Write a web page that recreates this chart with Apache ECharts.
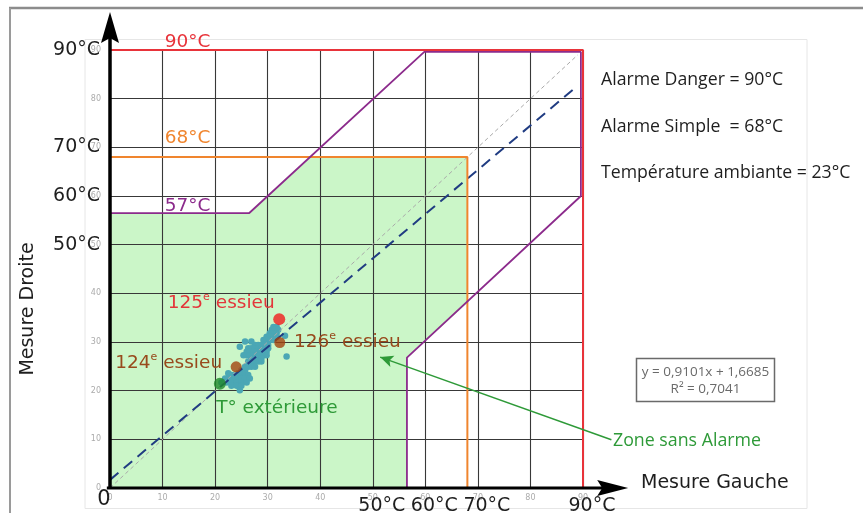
<!DOCTYPE html>
<html>
<head>
<meta charset="utf-8">
<script src="https://cdn.jsdelivr.net/npm/echarts@6/dist/echarts.min.js"></script>
<style>
  html, body { margin: 0; padding: 0; background: #ffffff; }
  #chart { width: 863px; height: 513px; }
</style>
</head>
<body>
<div id="chart"></div>
<script>
// Temperature scale (°C) shared by both measurement axes
const scaleMin = 0;
const scaleMax = 90;
const scaleStep = 10;

// Large tick captions
const leftCaptions = { 90: '90°C', 70: '70°C', 60: '60°C', 50: '50°C' };
const bottomCaptions = { 50: '50°C', 60: '60°C', 70: '70°C', 90: '90°C' };

// Alarm thresholds
const dangerLevel = 90;
const simpleLevel = 68;
const ambientTemp = 23;

// Threshold outlines (Mesure Gauche, Mesure Droite)
const dangerOutline = [[0, 90], [90, 90], [90, 0]];
const simpleOutline = [[0, 68], [68, 68], [68, 0]];
const gapOutline = [[-0.6, 56.5], [26.5, 56.5], [59.8, 89.6], [89.6, 89.6], [89.6, 60], [56.5, 26.8], [56.5, 0]];

// No-alarm zone
const quietZone = [[0, 0], [0, 56.5], [26.5, 56.5], [38, 68], [68, 68], [68, 38], [56.5, 26.8], [56.5, 0]];

// Axle readings (left, right)
const readings = [
  [31.1, 33.1], [31.7, 33.1],
  [30.8, 32.5], [31.4, 32.5], [32.0, 32.5],
  [30.4, 31.8], [31.1, 31.8], [31.7, 31.8],
  [29.8, 31.1], [30.4, 31.1], [31.1, 31.1], [31.7, 31.1], [33.3, 31.3],
  [29.2, 30.4], [29.8, 30.4], [30.4, 30.4], [31.1, 30.4],
  [25.7, 30.1], [26.9, 30.1],
  [27.6, 29.4], [28.2, 29.4], [28.8, 29.4], [29.5, 29.4], [30.1, 29.4],
  [24.7, 29.0],
  [26.3, 28.7], [26.9, 28.7], [27.6, 28.7], [28.2, 28.7], [28.8, 28.7], [29.5, 28.7], [30.1, 28.7],
  [26.0, 28.0], [26.6, 28.0], [27.3, 28.0], [27.9, 28.0], [28.5, 28.0], [29.2, 28.0], [29.8, 28.0],
  [25.4, 27.3], [26.0, 27.3], [26.6, 27.3], [27.3, 27.3], [27.9, 27.3], [28.5, 27.3], [29.2, 27.3], [29.8, 27.3],
  [33.6, 27.0],
  [26.9, 26.6], [27.6, 26.6], [28.2, 26.6], [28.8, 26.6],
  [26.3, 26.0], [26.9, 26.0], [27.6, 26.0], [28.2, 26.0], [28.8, 26.0],
  [25.7, 24.9], [26.3, 24.9], [26.9, 24.9], [27.6, 24.9],
  [25.0, 24.2], [25.7, 24.2],
  [22.5, 23.6], [24.4, 23.6], [25.0, 23.6], [25.7, 23.6],
  [23.1, 23.2], [23.8, 23.2], [26.3, 23.2],
  [21.9, 22.5], [22.5, 22.5], [23.1, 22.5], [23.8, 22.5], [24.4, 22.5], [25.0, 22.5], [25.7, 22.5], [26.6, 22.5],
  [21.2, 21.7], [22.2, 21.7], [23.1, 21.7], [24.1, 21.7], [25.0, 21.7], [26.0, 21.7],
  [23.1, 21.0], [24.1, 21.0], [25.0, 21.0],
  [24.7, 20.1]
];

// Highlighted measurements
const axle125 = [32.2, 34.7];
const axle126 = [32.3, 29.9];
const axle124 = [24.0, 24.9];
const outdoorTemp = [20.9, 21.4];

// Linear trend of the readings
const trendSlope = 0.9101;
const trendIntercept = 1.6685;
const trendR2 = 0.7041;
const trendRange = [0, 89];
const equalityRange = [0, 89];

const fmt = (v) => String(v).replace('.', ',');

const BIG = 'DejaVu Sans';
const SANS = 'Open Sans';

const chart = echarts.init(document.getElementById('chart'), null, { renderer: 'canvas' });

const gridLine = { show: true, lineStyle: { color: '#383838', width: 1.1, type: 'solid' } };
const smallLabel = { fontSize: 8, color: '#ababab', fontFamily: BIG };

const option = {
  animation: false,
  backgroundColor: '#ffffff',
  grid: { left: 110, top: 50, width: 473, height: 438, outerBoundsMode: 'none', containLabel: false },
  xAxis: [
    {
      type: 'value', min: scaleMin, max: scaleMax, interval: scaleStep, z: 3,
      axisLine: { show: false }, axisTick: { show: false },
      splitLine: gridLine,
      axisLabel: Object.assign({ margin: 6 }, smallLabel)
    },
    {
      type: 'value', position: 'bottom', offset: 0, min: scaleMin, max: scaleMax, interval: scaleStep, z: 3,
      axisLine: { show: false }, axisTick: { show: false }, splitLine: { show: false },
      axisLabel: {
        margin: 1,
        formatter: (v) => v === 0 ? '{z|0}' : (bottomCaptions[v] ? '{b|' + bottomCaptions[v] + '}' : ''),
        rich: {
          b: { fontSize: 19, color: '#1e1e1e', fontFamily: BIG, padding: [8, 0, 0, 18] },
          z: { fontSize: 21, color: '#1e1e1e', fontFamily: BIG, padding: [0, 12, 0, 0] }
        }
      }
    }
  ],
  yAxis: [
    {
      type: 'value', min: scaleMin, max: scaleMax, interval: scaleStep, z: 3,
      axisLine: { show: false }, axisTick: { show: false },
      splitLine: gridLine,
      axisLabel: Object.assign({ margin: 9 }, smallLabel)
    },
    {
      type: 'value', position: 'left', offset: 0, min: scaleMin, max: scaleMax, interval: scaleStep, z: 3,
      axisLine: { show: false }, axisTick: { show: false }, splitLine: { show: false },
      axisLabel: {
        margin: 10, fontSize: 19, color: '#1e1e1e', fontFamily: BIG,
        formatter: (v) => leftCaptions[v] || ''
      }
    }
  ],
  series: [
    {
      name: 'Zone sans Alarme', type: 'custom', z: 1, silent: true, clip: false,
      data: quietZone,
      renderItem: (params, api) => {
        if (params.dataIndex !== 0) return null;
        return {
          type: 'polygon',
          shape: { points: quietZone.map((p) => api.coord(p)) },
          style: { fill: '#cbf6c8', stroke: null }
        };
      }
    },
    {
      name: 'Mesures', type: 'scatter', z: 4, silent: true,
      data: readings, symbolSize: 6.5,
      itemStyle: { color: '#4ba7b5', opacity: 1 }
    },
    {
      name: 'x = y', type: 'line', z: 5, silent: true, symbol: 'none',
      data: equalityRange.map((x) => [x, x]),
      lineStyle: { color: '#a9a9a9', width: 1, type: [4, 3] }
    },
    {
      name: 'Tendance', type: 'line', z: 5, silent: true, symbol: 'none',
      data: trendRange.map((x) => [x, trendSlope * x + trendIntercept]),
      lineStyle: { color: '#203c82', width: 2, type: [11, 7] }
    },
    {
      name: 'Alarme Simple', type: 'line', z: 6, silent: true, symbol: 'none', clip: false,
      data: simpleOutline, lineStyle: { color: '#f0852e', width: 2 }
    },
    {
      name: 'Seuil 57', type: 'line', z: 6, silent: true, symbol: 'none', clip: false,
      data: gapOutline, lineStyle: { color: '#8c2b8c', width: 1.8 }
    },
    {
      name: 'Alarme Danger', type: 'line', z: 6, silent: true, symbol: 'none', clip: false,
      data: dangerOutline, lineStyle: { color: '#e8333a', width: 2 }
    },
    {
      name: 'Repères', type: 'scatter', z: 8, silent: true,
      data: [
        { value: axle125, symbolSize: 12, itemStyle: { color: '#f01d1d' } },
        { value: axle126, symbolSize: 11, itemStyle: { color: '#a3440f' } },
        { value: axle124, symbolSize: 11, itemStyle: { color: '#a3440f' } },
        { value: outdoorTemp, symbolSize: 12, itemStyle: { color: '#1f8a2a' } }
      ]
    }
  ]
};

chart.setOption(option);

// Helpers working in data space
const px = (p) => chart.convertToPixel({ gridIndex: 0 }, p);

function arrowHead(tip, from, len, half, notch, color) {
  const dx = tip[0] - from[0], dy = tip[1] - from[1];
  const d = Math.hypot(dx, dy) || 1;
  const ux = dx / d, uy = dy / d, nx = -uy, ny = ux;
  const bx = tip[0] - ux * len, by = tip[1] - uy * len;
  return {
    type: 'polygon', z: 20, silent: true,
    shape: {
      points: [
        tip,
        [bx + nx * half, by + ny * half],
        [tip[0] - ux * (len - notch), tip[1] - uy * (len - notch)],
        [bx - nx * half, by - ny * half]
      ]
    },
    style: { fill: color }
  };
}

function axleLabel(anchor, num, color) {
  const p = px(anchor);
  return {
    type: 'text', z: 20, silent: true, x: p[0], y: p[1],
    style: {
      text: '{n|' + num + '}{s|e}{n| essieu}',
      verticalAlign: 'middle', align: 'left',
      rich: {
        n: { fontSize: 18.5, fontFamily: BIG, fill: color, lineHeight: 22 },
        s: { fontSize: 11, fontFamily: BIG, fill: color, lineHeight: 12, verticalAlign: 'top' }
      }
    }
  };
}

function plainLabel(anchor, text, color, size, family) {
  const p = px(anchor);
  return {
    type: 'text', z: 20, silent: true, x: p[0], y: p[1],
    style: { text, fill: color, fontSize: size, fontFamily: family, verticalAlign: 'middle', align: 'left' }
  };
}

const origin = px([0, 0]);
const yTip = px([0, 97.8]);
const xStart = px([-0.6, 0]);
const xTip = px([98.6, 0]);
const zoneFrom = px([95.4, 9.9]);
const zoneTip = px([51.4, 26.9]);

const settingStyle = { fill: '#1e1e1e', fontSize: 17.7, fontFamily: SANS, verticalAlign: 'middle' };

const graphics = [
  // page frame
  { type: 'line', z: 0, silent: true, shape: { x1: 9, y1: 8, x2: 863, y2: 8 }, style: { stroke: '#8c8c8c', lineWidth: 2.5 } },
  { type: 'line', z: 0, silent: true, shape: { x1: 10, y1: 8, x2: 10, y2: 513 }, style: { stroke: '#9a9a9a', lineWidth: 2 } },
  { type: 'rect', z: 0, silent: true, shape: { x: 85, y: 39.5, width: 722, height: 469 }, style: { fill: null, stroke: '#e6e6e6', lineWidth: 1 } },

  // measurement axes with arrows
  { type: 'line', z: 19, silent: true, shape: { x1: origin[0], y1: origin[1] + 1, x2: yTip[0], y2: yTip[1] + 20 }, style: { stroke: '#000', lineWidth: 3.5 } },
  arrowHead(yTip, origin, 31, 9, 5, '#000'),
  { type: 'line', z: 19, silent: true, shape: { x1: xStart[0], y1: xStart[1], x2: xTip[0] - 20, y2: xTip[1] }, style: { stroke: '#000', lineWidth: 3 } },
  arrowHead(xTip, xStart, 31, 8, 5, '#000'),

  // threshold captions
  plainLabel([10.4, 91.6], '90°C', '#e8333a', 18.5, BIG),
  plainLabel([10.4, 71.9], '68°C', '#f0852e', 18.5, BIG),
  plainLabel([10.4, 57.9], '57°C', '#8c2b8c', 18.5, BIG),

  // measurement captions
  axleLabel([11.0, 38.0], '125', '#e3363a'),
  axleLabel([1.0, 25.7], '124', '#984a1c'),
  axleLabel([35.0, 30.0], '126', '#984a1c'),
  plainLabel([20.2, 16.4], 'T° extérieure', '#2e9a38', 18.5, BIG),

  // zone pointer
  { type: 'line', z: 19, silent: true, shape: { x1: zoneFrom[0], y1: zoneFrom[1], x2: zoneTip[0], y2: zoneTip[1] }, style: { stroke: '#2e9a38', lineWidth: 1.5 } },
  arrowHead(zoneTip, zoneFrom, 13, 6, 3, '#2e9a38'),
  plainLabel([95.7, 9.7], 'Zone sans Alarme', '#2e9a38', 17.8, SANS),

  // alarm settings
  { type: 'text', z: 20, silent: true, x: 601, y: 80, style: Object.assign({ text: 'Alarme Danger = ' + dangerLevel + '°C' }, settingStyle) },
  { type: 'text', z: 20, silent: true, x: 601, y: 127, style: Object.assign({ text: 'Alarme Simple  = ' + simpleLevel + '°C' }, settingStyle) },
  { type: 'text', z: 20, silent: true, x: 601, y: 173, style: Object.assign({ text: 'Température ambiante = ' + ambientTemp + '°C' }, settingStyle) },

  // trend equation box
  { type: 'rect', z: 20, silent: true, shape: { x: 636.5, y: 358.5, width: 138, height: 43 }, style: { fill: '#ffffff', stroke: '#6a6a6a', lineWidth: 1.5 } },
  { type: 'text', z: 21, silent: true, x: 705.5, y: 372, style: { text: 'y = ' + fmt(trendSlope) + 'x + ' + fmt(trendIntercept), fill: '#6a6a6a', fontSize: 13.5, fontFamily: SANS, align: 'center', verticalAlign: 'middle' } },
  { type: 'text', z: 21, silent: true, x: 705.5, y: 389.5, style: { text: 'R² = ' + fmt(trendR2), fill: '#6a6a6a', fontSize: 13.5, fontFamily: SANS, align: 'center', verticalAlign: 'middle' } },

  // axis titles
  { type: 'text', z: 20, silent: true, x: 641, y: 483, style: { text: 'Mesure Gauche', fill: '#1e1e1e', fontSize: 19, fontFamily: BIG, verticalAlign: 'middle' } },
  { type: 'text', z: 20, silent: true, x: 28, y: 309, rotation: Math.PI / 2, style: { text: 'Mesure Droite', fill: '#1e1e1e', fontSize: 19, fontFamily: BIG, align: 'center', verticalAlign: 'middle' } }
];

chart.setOption({ graphic: graphics });
</script>
</body>
</html>
